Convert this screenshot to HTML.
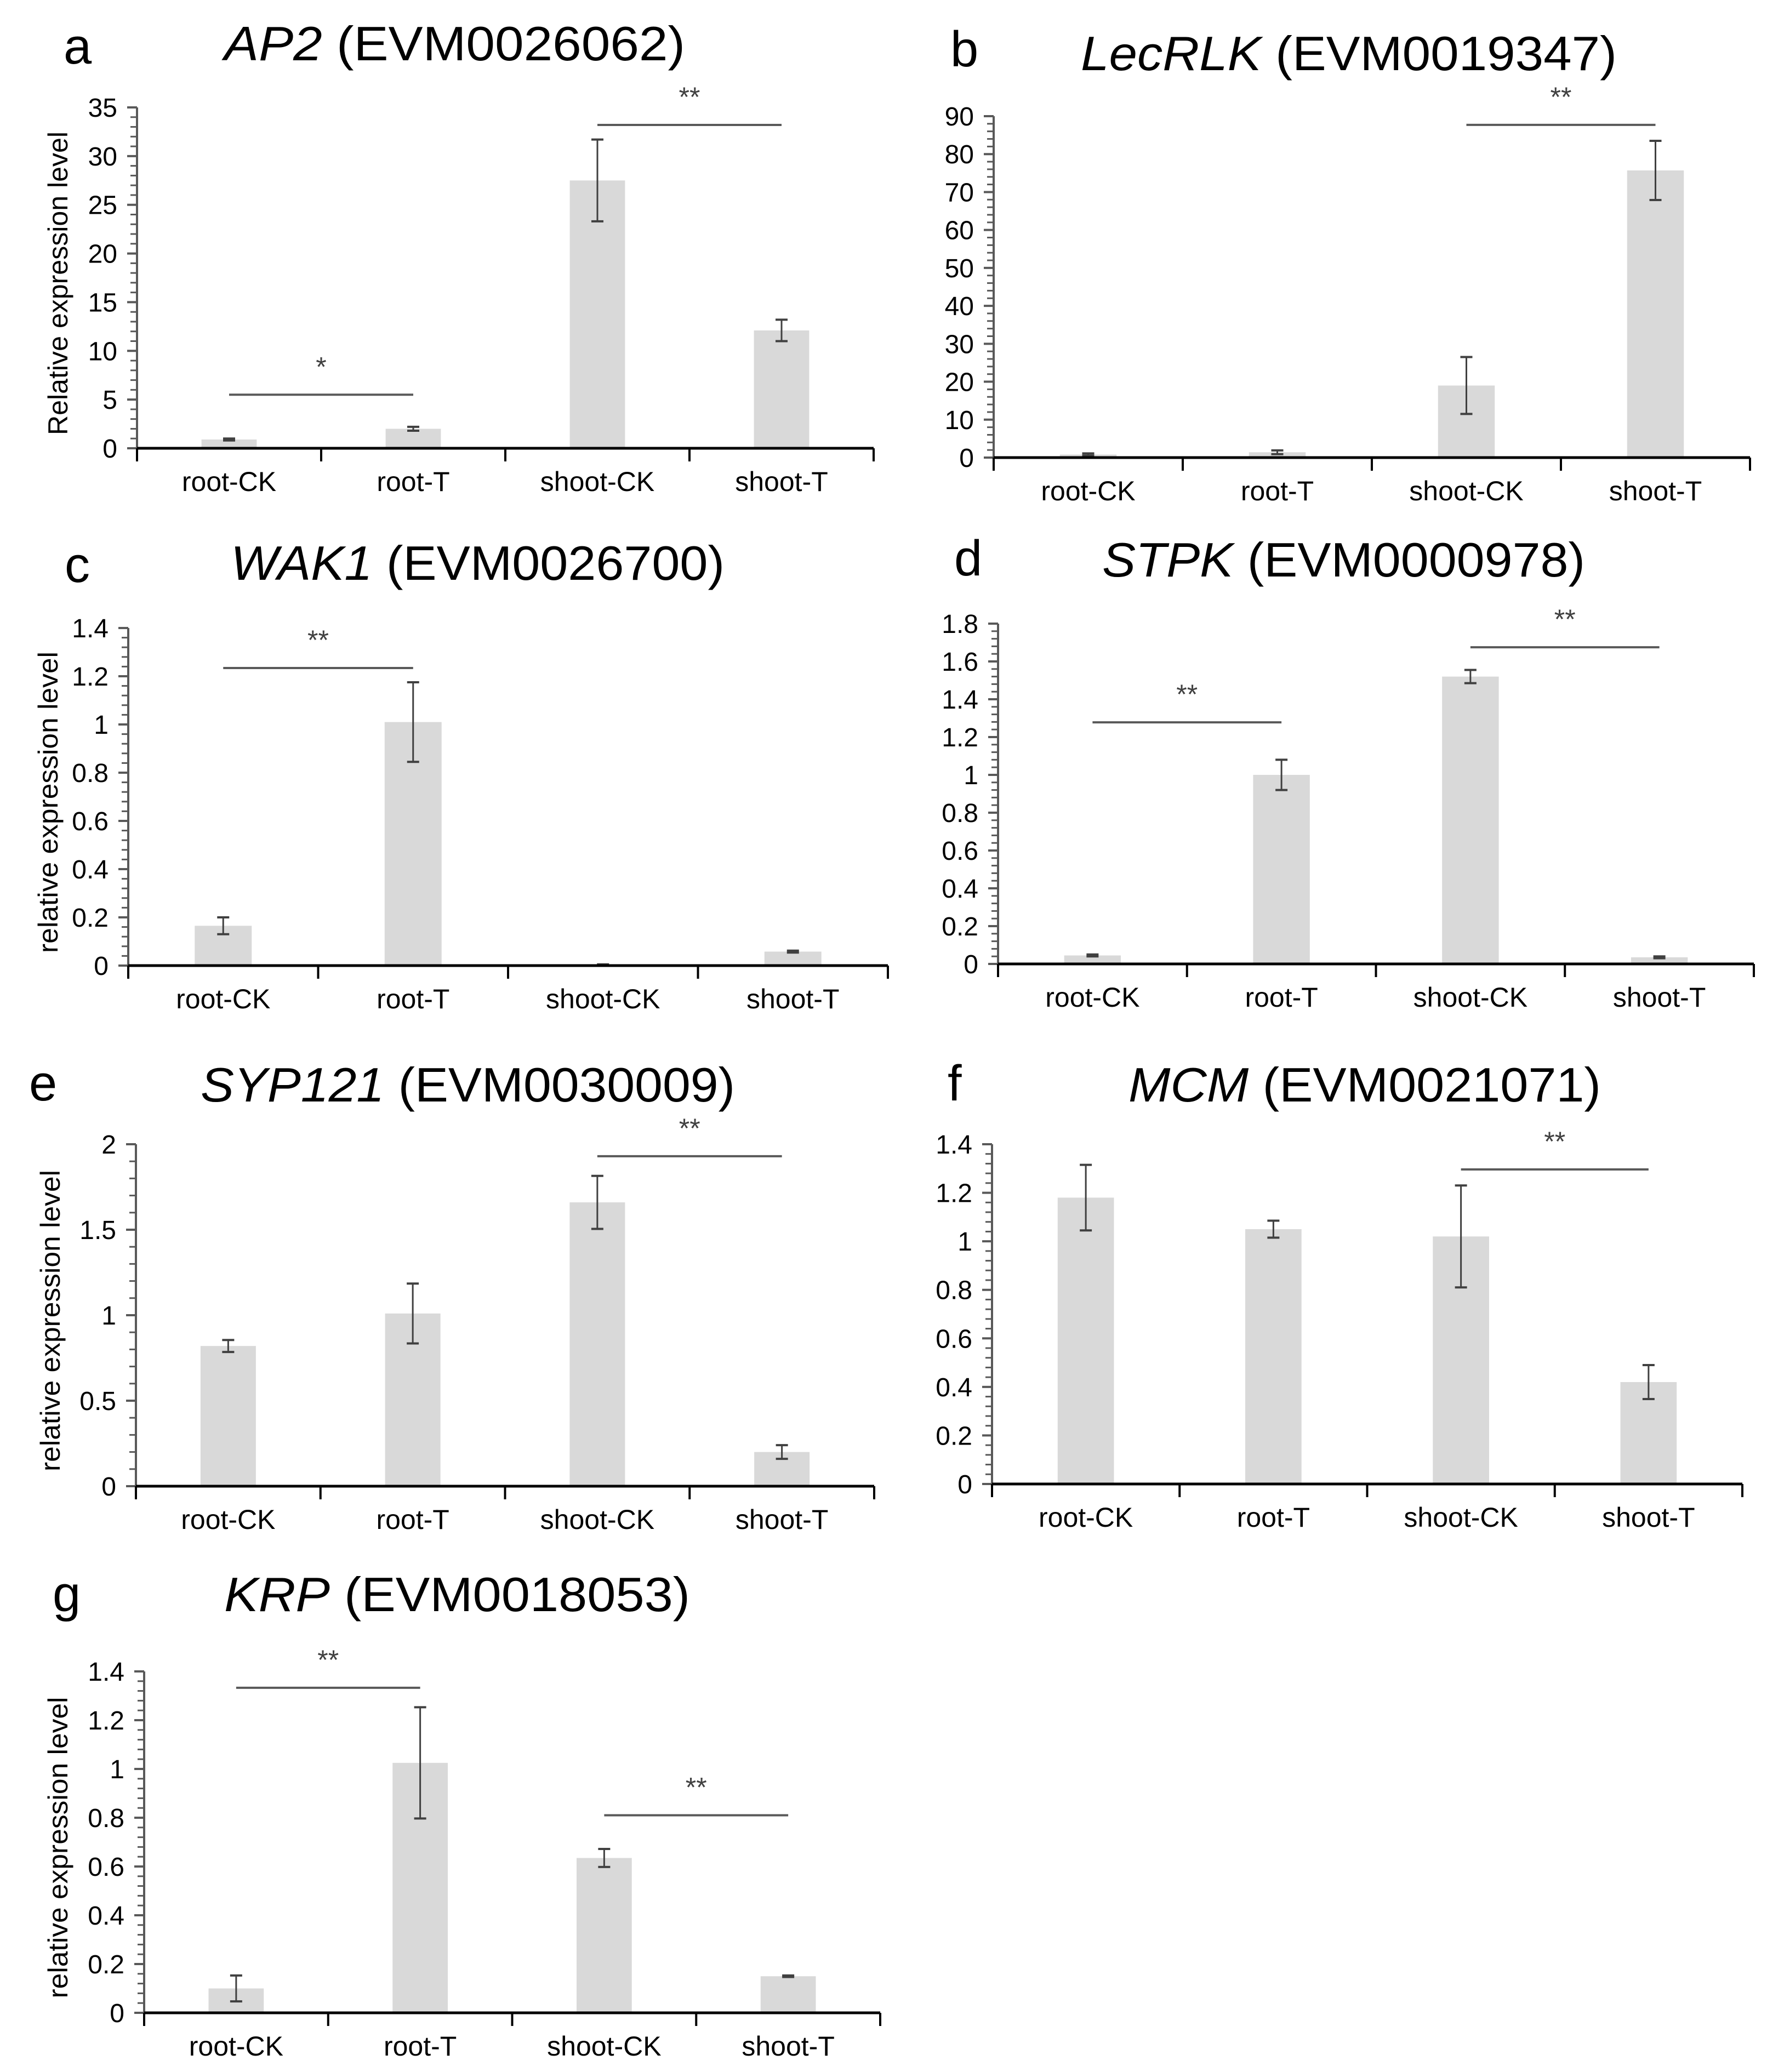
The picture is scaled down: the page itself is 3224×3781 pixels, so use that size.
<!DOCTYPE html>
<html><head><meta charset="utf-8"><title>Relative expression charts</title>
<style>
html,body{margin:0;padding:0;background:#fff;}
svg{display:block;font-family:"Liberation Sans",Arial,sans-serif;}
</style></head>
<body>
<svg id="fig" width="3224" height="3781" viewBox="0 0 3224 3781" xmlns="http://www.w3.org/2000/svg"></svg>
<script>
const categories = ["root-CK","root-T","shoot-CK","shoot-T"];

const apValues = [0.9, 2.0, 27.5, 12.1];
const apErrors = [0.1, 0.2, 4.2, 1.1];
const apTicks = [0,5,10,15,20,25,30,35];
const apSig = [[0,1,5.5,"*"],[2,3,33.2,"**"]];

const lecValues = [0.8, 1.4, 19.0, 75.7];
const lecErrors = [0.3, 0.5, 7.5, 7.8];
const lecTicks = [0,10,20,30,40,50,60,70,80,90];
const lecSig = [[2,3,87.7,"**"]];

const wakValues = [0.165, 1.01, 0.003, 0.058];
const wakErrors = [0.035, 0.165, 0.002, 0.004];
const wakTicks = [0,0.2,0.4,0.6,0.8,1,1.2,1.4];
const wakSig = [[0,1,1.234,"**"]];

const stpkValues = [0.045, 1.0, 1.52, 0.035];
const stpkErrors = [0.005, 0.08, 0.035, 0.005];
const stpkTicks = [0,0.2,0.4,0.6,0.8,1,1.2,1.4,1.6,1.8];
const stpkSig = [[0,1,1.278,"**"],[2,3,1.675,"**"]];

const sypValues = [0.82, 1.01, 1.66, 0.2];
const sypErrors = [0.035, 0.175, 0.155, 0.04];
const sypTicks = [0,0.5,1,1.5,2];
const sypSig = [[2,3,1.93,"**"]];

const mcmValues = [1.18, 1.05, 1.02, 0.42];
const mcmErrors = [0.135, 0.035, 0.21, 0.07];
const mcmTicks = [0,0.2,0.4,0.6,0.8,1,1.2,1.4];
const mcmSig = [[2,3,1.296,"**"]];

const krpValues = [0.10, 1.025, 0.635, 0.15];
const krpErrors = [0.053, 0.228, 0.037, 0.003];
const krpTicks = [0,0.2,0.4,0.6,0.8,1,1.2,1.4];
const krpSig = [[0,1,1.333,"**"],[2,3,0.81,"**"]];

const NS = "http://www.w3.org/2000/svg";
const svg = document.getElementById("fig");

function mk(tag, attrs, parent){
  const e = document.createElementNS(NS, tag);
  for (const k in attrs) e.setAttribute(k, attrs[k]);
  (parent||svg).appendChild(e);
  return e;
}

const panels = [
  {id:"a", letter:"a", gene:"AP2", code:" (EVM0026062)", values:apValues, errors:apErrors, ticks:apTicks, sig:apSig,
   x0:250, x1:1594, y0:818, yTop:196, letterX:116, letterY:116, titleX:409, titleEnd:1250, titleY:110,
   ylabel:"Relative expression level", ylabelX:106, ylabelLen:554},
  {id:"b", letter:"b", gene:"LecRLK", code:" (EVM0019347)", values:lecValues, errors:lecErrors, ticks:lecTicks, sig:lecSig,
   x0:1813, x1:3193, y0:835, yTop:212, letterX:1734, letterY:121, titleX:1972, titleEnd:2950, titleY:128,
   ylabel:null},
  {id:"c", letter:"c", gene:"WAK1", code:" (EVM0026700)", values:wakValues, errors:wakErrors, ticks:wakTicks, sig:wakSig,
   x0:234, x1:1620, y0:1762, yTop:1146, letterX:118, letterY:1062, titleX:421, titleEnd:1322, titleY:1058,
   ylabel:"relative expression level", ylabelX:88, ylabelLen:550},
  {id:"d", letter:"d", gene:"STPK", code:" (EVM0000978)", values:stpkValues, errors:stpkErrors, ticks:stpkTicks, sig:stpkSig,
   x0:1821, x1:3200, y0:1759, yTop:1138, letterX:1741, letterY:1050, titleX:2011, titleEnd:2892, titleY:1052,
   ylabel:null},
  {id:"e", letter:"e", gene:"SYP121", code:" (EVM0030009)", values:sypValues, errors:sypErrors, ticks:sypTicks, sig:sypSig,
   x0:248, x1:1595, y0:2712, yTop:2088, letterX:53, letterY:2008, titleX:366, titleEnd:1341, titleY:2010,
   ylabel:"relative expression level", ylabelX:92, ylabelLen:550},
  {id:"f", letter:"f", gene:"MCM", code:" (EVM0021071)", values:mcmValues, errors:mcmErrors, ticks:mcmTicks, sig:mcmSig,
   x0:1810, x1:3179, y0:2708, yTop:2088, letterX:1729, letterY:2008, titleX:2059, titleEnd:2921, titleY:2010,
   ylabel:null},
  {id:"g", letter:"g", gene:"KRP", code:" (EVM0018053)", values:krpValues, errors:krpErrors, ticks:krpTicks, sig:krpSig,
   x0:263, x1:1606, y0:3673, yTop:3050, letterX:96, letterY:2940, titleX:409, titleEnd:1259, titleY:2940,
   ylabel:"relative expression level", ylabelX:106, ylabelLen:550}
];

panels.forEach(function(p){
  const g = mk("g", {});
  
  

  const tMax = p.ticks[p.ticks.length-1];
  const yScale = function(v){ return p.y0 - (v / tMax) * (p.y0 - p.yTop); };
  const catW = (p.x1 - p.x0) / categories.length;
  const xCenter = function(i){ return p.x0 + catW * (i + 0.5); };
  const barW = catW * 0.3;

  // panel letter
  const lt = mk("text", {x:p.letterX, y:p.letterY, "font-size":92, fill:"#000"}, g);
  lt.textContent = p.letter;
  
  

  // title
  const tt = mk("text", {x:p.titleX, y:p.titleY, "font-size":88, fill:"#000",
     textLength:(p.titleEnd - p.titleX), lengthAdjust:"spacingAndGlyphs"}, g);
  const ts1 = mk("tspan", {"font-style":"italic"}, tt); ts1.textContent = p.gene;
  const ts2 = mk("tspan", {}, tt); ts2.textContent = p.code;
  
  

  // y-axis label
  if (p.ylabel){
    const cy = (p.y0 + p.yTop) / 2 + 10;
    const yl = mk("text", {x:p.ylabelX, y:cy, "font-size":50, fill:"#000", "text-anchor":"middle",
      transform:"rotate(-90 " + p.ylabelX + " " + cy + ")", dy:"17",
      textLength:p.ylabelLen, lengthAdjust:"spacingAndGlyphs"}, g);
    yl.textContent = p.ylabel;
    
    
  }

  // bars
  p.values.forEach(function(v, i){
    const r = mk("rect", {x:xCenter(i) - barW/2, y:yScale(v), width:barW, height:p.y0 - yScale(v), fill:"#d9d9d9"}, g);
    
    
  });

  // error bars
  p.values.forEach(function(v, i){
    const e = p.errors[i];
    const cx = xCenter(i);
    const eg = mk("g", {stroke:"#404040", "stroke-width":3, fill:"none"}, g);
    
    
    mk("line", {x1:cx, x2:cx, y1:yScale(v+e), y2:yScale(v-e)}, eg);
    mk("line", {x1:cx-11, x2:cx+11, y1:yScale(v+e), y2:yScale(v+e), "stroke-width":4}, eg);
    mk("line", {x1:cx-11, x2:cx+11, y1:yScale(v-e), y2:yScale(v-e), "stroke-width":4}, eg);
  });

  // y axis
  const ya = mk("line", {x1:p.x0, x2:p.x0, y1:p.yTop, y2:p.y0, stroke:"#595959", "stroke-width":4}, g);
  
  
  const step = p.ticks[1] - p.ticks[0];
  const nMinor = (p.ticks.length - 1) * 5;
  for (let k = 0; k <= nMinor; k++){
    const v = k * step / 5;
    const yy = yScale(v);
    const major = (k % 5 === 0);
    mk("line", {x1:p.x0 - (major ? 18 : 12), x2:p.x0, y1:yy, y2:yy, stroke:"#595959", "stroke-width":major ? 4 : 3}, g);
  }
  p.ticks.forEach(function(t){
    const tl = mk("text", {x:p.x0 - 36, y:yScale(t) + 17, "font-size":48, fill:"#000", "text-anchor":"end"}, g);
    tl.textContent = String(t);
    
    
  });

  // x axis
  const xa = mk("line", {x1:p.x0, x2:p.x1, y1:p.y0, y2:p.y0, stroke:"#000", "stroke-width":5}, g);
  
  
  for (let k = 0; k <= categories.length; k++){
    const xx = p.x0 + catW * k;
    mk("line", {x1:xx, x2:xx, y1:p.y0, y2:p.y0 + 24, stroke:"#000", "stroke-width":4}, g);
  }
  categories.forEach(function(c, i){
    const cl = mk("text", {x:xCenter(i), y:p.y0 + 78, "font-size":50, fill:"#000", "text-anchor":"middle"}, g);
    cl.textContent = c;
    
    
  });

  // significance annotations
  p.sig.forEach(function(s){
    const xa1 = xCenter(s[0]), xa2 = xCenter(s[1]), yy = yScale(s[2]);
    const sl = mk("line", {x1:xa1, x2:xa2, y1:yy, y2:yy, stroke:"#595959", "stroke-width":4}, g);
    
    
    const st = mk("text", {x:(xa1 + xa2) / 2, y:yy - 34, "font-size":50, fill:"#404040", "text-anchor":"middle"}, g);
    st.textContent = s[3];
    
    
  });
});
</script>
</body></html>
